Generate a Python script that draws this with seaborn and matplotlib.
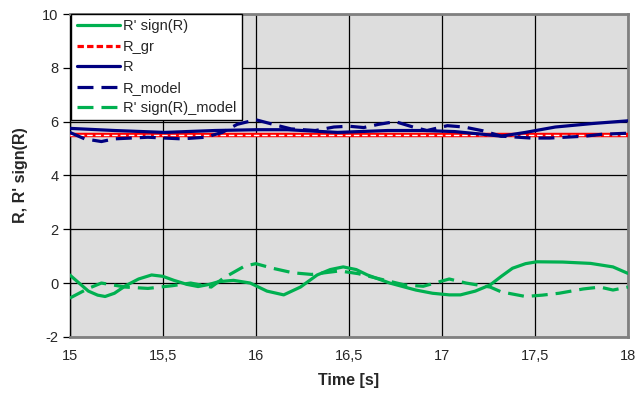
import numpy as np
import pandas as pd
import matplotlib
matplotlib.use("Agg")
import matplotlib.pyplot as plt
import seaborn as sns
from matplotlib.lines import Line2D

# ---- data ----
t_rs = [15.0, 15.05, 15.1, 15.15, 15.19, 15.24, 15.3, 15.37, 15.44, 15.5, 15.56,
        15.63, 15.69, 15.75, 15.8, 15.88, 15.97, 16.06, 16.15, 16.24, 16.33,
        16.4, 16.47, 16.54, 16.6, 16.72, 16.86, 16.95, 17.04, 17.1, 17.18,
        17.26, 17.32, 17.38, 17.45, 17.51, 17.65, 17.8, 17.92, 18.0]
v_rs = [0.3, 0.0, -0.3, -0.45, -0.5, -0.38, -0.1, 0.15, 0.3, 0.25, 0.1,
        -0.05, -0.13, -0.05, 0.05, 0.1, 0.0, -0.3, -0.44, -0.15, 0.3,
        0.5, 0.6, 0.5, 0.3, 0.0, -0.26, -0.38, -0.44, -0.44, -0.3,
        -0.07, 0.25, 0.55, 0.72, 0.79, 0.78, 0.73, 0.6, 0.36]

t_rsm = [15.0, 15.1, 15.17, 15.3, 15.42, 15.55, 15.65, 15.76, 15.83, 15.94, 16.0,
         16.09, 16.2, 16.3, 16.45, 16.55, 16.65, 16.8, 16.9, 17.04, 17.13, 17.26,
         17.32, 17.45, 17.54, 17.63, 17.76, 17.85, 17.92, 18.0]
v_rsm = [-0.56, -0.2, 0.0, -0.15, -0.2, -0.1, 0.0, -0.15, 0.2, 0.63, 0.72,
         0.55, 0.38, 0.32, 0.45, 0.35, 0.18, -0.07, -0.12, 0.15, 0.0, -0.15,
         -0.33, -0.5, -0.45, -0.38, -0.22, -0.15, -0.26, -0.15]

t_gr = [15.0, 18.0]
v_gr = [5.5, 5.5]

t_r = [15.0, 15.24, 15.51, 15.78, 16.01, 16.17, 16.44, 16.71, 16.9, 17.07, 17.22,
       17.32, 17.45, 17.61, 17.81, 18.0]
v_r = [5.75, 5.67, 5.6, 5.67, 5.7, 5.7, 5.6, 5.67, 5.67, 5.63, 5.53,
       5.46, 5.6, 5.8, 5.93, 6.03]

t_rm = [15.0, 15.08, 15.17, 15.24, 15.42, 15.6, 15.73, 15.82, 15.9, 16.0, 16.12,
        16.19, 16.32, 16.42, 16.5, 16.58, 16.66, 16.75, 16.85, 16.92, 17.03, 17.12,
        17.22, 17.32, 17.48, 17.58, 17.77, 17.86, 18.0]
v_rm = [5.6, 5.36, 5.26, 5.36, 5.42, 5.36, 5.42, 5.6, 5.9, 6.07, 5.85,
        5.73, 5.67, 5.8, 5.83, 5.78, 5.9, 6.0, 5.79, 5.67, 5.85, 5.8,
        5.66, 5.46, 5.39, 5.39, 5.46, 5.53, 5.57]

x_ticks = [15, 15.5, 16, 16.5, 17, 17.5, 18]
x_labels = ["15", "15,5", "16", "16,5", "17", "17,5", "18"]
y_ticks = [-2, 0, 2, 4, 6, 8, 10]
y_labels = ["-2", "0", "2", "4", "6", "8", "10"]
legend_labels = ["R' sign(R)", "R_gr", "R", "R_model", "R' sign(R)_model"]

GREEN = "#00B050"
NAVY = "#000080"
RED = "#FF0000"

sns.set_style("white")
plt.rcParams["font.family"] = ["Liberation Sans", "DejaVu Sans"]

fig = plt.figure(figsize=(6.4, 4.01), dpi=100)
ax = fig.add_axes([0.109, 0.160, 0.872, 0.805])
ax.set_facecolor("#DDDDDD")

lw = 2.3
DASH = (5, 2.5)
sns.lineplot(x=t_rs, y=v_rs, ax=ax, color=GREEN, lw=lw, sort=False, zorder=5)
sns.lineplot(x=t_gr, y=v_gr, ax=ax, color=RED, lw=3.2, sort=False, zorder=4)
sns.lineplot(x=t_gr, y=v_gr, ax=ax, color="white", lw=1.0, sort=False, zorder=4.1)
sns.lineplot(x=t_r, y=v_r, ax=ax, color=NAVY, lw=lw, sort=False, zorder=5)
sns.lineplot(x=t_rm, y=v_rm, ax=ax, color=NAVY, lw=lw, sort=False, zorder=5)
sns.lineplot(x=t_rsm, y=v_rsm, ax=ax, color=GREEN, lw=lw, sort=False, zorder=5)
lines = ax.get_lines()
lines[2].set_dashes((4, 2))
lines[4].set_dashes(DASH)
lines[5].set_dashes(DASH)

ax.set_xlim(15, 18)
ax.set_ylim(-2, 10)
ax.set_xticks(x_ticks)
ax.set_xticklabels(x_labels, fontsize=10.5)
ax.set_yticks(y_ticks)
ax.set_yticklabels(y_labels, fontsize=10.5)
ax.grid(True, color="black", lw=0.9)
ax.set_axisbelow(True)
ax.tick_params(axis="y", which="both", left=True, length=5, width=0.9,
               color="black", pad=3)
ax.tick_params(axis="x", length=0, pad=9)

for s in ["top", "right", "bottom"]:
    ax.spines[s].set_color("#808080")
    ax.spines[s].set_linewidth(2.0)
ax.spines["left"].set_color("black")
ax.spines["left"].set_linewidth(1.0)

ax.set_xlabel("Time [s]", fontsize=11.5, fontweight="bold", labelpad=7)
ax.set_ylabel("R, R' sign(R)", fontsize=11.5, fontweight="bold", labelpad=10)

h = [Line2D([], [], color=GREEN, lw=lw),
     Line2D([], [], color=RED, lw=lw, dashes=(2, 1)),
     Line2D([], [], color=NAVY, lw=lw),
     Line2D([], [], color=NAVY, lw=lw, dashes=DASH),
     Line2D([], [], color=GREEN, lw=lw, dashes=DASH)]
leg = ax.legend(h, legend_labels, loc="upper left", bbox_to_anchor=(0.003, 1.0),
                borderaxespad=0.0, fontsize=10.5, frameon=True, fancybox=False,
                handlelength=3.0, handletextpad=0.2, labelspacing=0.45,
                borderpad=0.35)
leg.get_frame().set_edgecolor("black")
leg.get_frame().set_linewidth(1.0)
leg.get_frame().set_facecolor("white")
leg.get_frame().set_alpha(1.0)
leg.set_zorder(10)

fig.savefig("out.png", dpi=100, facecolor="white")
